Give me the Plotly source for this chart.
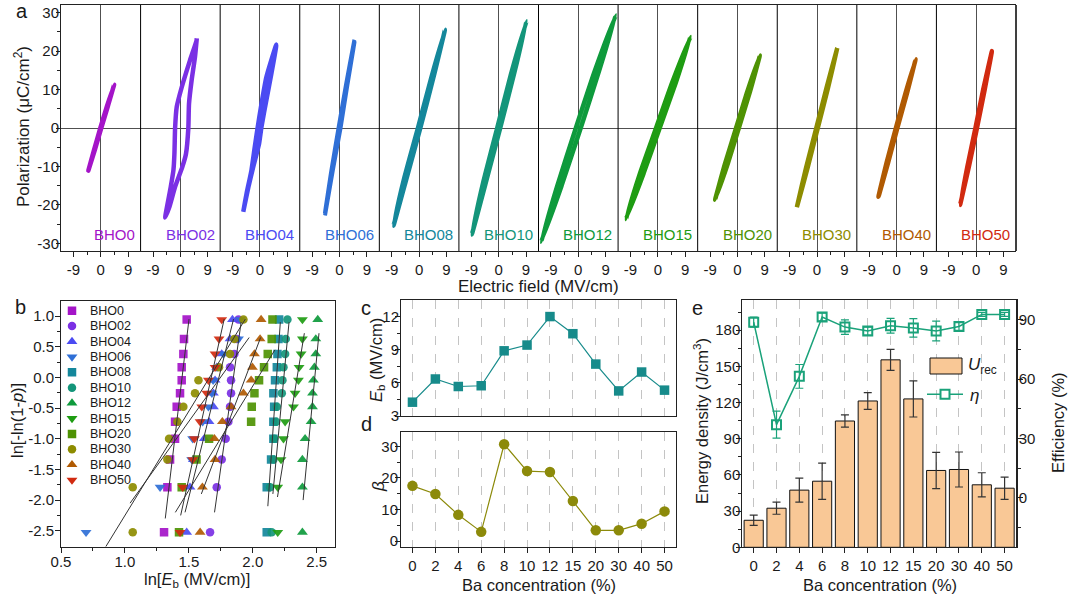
import math
import plotly.graph_objects as go

# ---------------- data ----------------
samples = ["BHO0", "BHO02", "BHO04", "BHO06", "BHO08", "BHO10",
           "BHO12", "BHO15", "BHO20", "BHO30", "BHO40", "BHO50"]
colors = ["#A414C8", "#7B30E4", "#4B4BF2", "#2F6FD6", "#14879B", "#13957A",
          "#0E9A3C", "#1E9C12", "#4E9203", "#8D8C00", "#B05A02", "#D12A10"]
symbols = ["square", "circle", "triangle-up", "triangle-down"] * 3
conc = ["0", "2", "4", "6", "8", "10", "12", "15", "20", "30", "40", "50"]

# (a) P-E loops, closed paths (E in MV/cm, P in uC/cm2)
E_BHO0 = [-4.1, -2.0, 0.15, 2.3, 4.4, 2.0, -0.15, -2.2, -4.1]
P_BHO0 = [-11.1, -5.8, 0.0, 5.6, 11.3, 5.6, 0.0, -5.6, -11.1]
E_BHO02 = [-5.0, -3.6, -1.74, 0.65, 1.85, 2.62, 2.84, 3.7, 4.8, 5.4,
           5.34, 3.16, 0.44, -1.2, -1.74, -1.96, -2.29, -3.16, -5.0]
P_BHO02 = [-23.3, -20.5, -15.3, -10.1, -6.7, 0.0, 6.3, 12.4, 18.4, 23.3,
           22.8, 17.6, 10.6, 5.5, 0.0, -6.7, -11.0, -15.3, -23.3]
E_BHO04 = [-5.5, -3.7, -2.2, -0.3, 0.5, 2.1, 3.75, 5.4,
           2.1, 0.5, -0.9, -1.7, -2.8, -4.4, -5.5]
P_BHO04 = [-21.8, -15.0, -10.1, -4.1, 0.3, 7.2, 14.1, 21.7,
           13.2, 6.3, -0.6, -4.9, -11.0, -17.0, -21.8]
E_BHO06 = [-4.74, -2.3, 0.25, 2.5, 4.85, 2.2, -0.25, -2.6, -4.74]
P_BHO06 = [-22.2, -11.0, 0.0, 11.2, 22.4, 11.2, 0.0, -11.0, -22.2]
E_BHO08 = [-8.44, -4.0, 0.4, 4.6, 8.5, 3.9, -0.4, -4.8, -8.44]
P_BHO08 = [-25.4, -12.7, 0.0, 12.8, 25.6, 12.8, 0.0, -12.7, -25.4]
E_BHO10 = [-8.85, -4.1, 0.5, 5.0, 9.15, 4.0, -0.5, -5.0, -8.85]
P_BHO10 = [-27.7, -13.8, 0.0, 13.9, 27.8, 13.9, 0.0, -13.8, -27.7]
E_BHO12 = [-12.2, -5.5, 0.8, 6.9, 12.3, 5.5, -0.8, -6.9, -12.2]
P_BHO12 = [-29.6, -15.0, 0.0, 15.0, 29.3, 15.0, 0.0, -15.0, -29.6]
E_BHO15 = [-10.5, -4.7, 0.6, 5.9, 10.7, 4.7, -0.6, -5.9, -10.5]
P_BHO15 = [-23.7, -11.8, 0.0, 11.8, 23.7, 11.8, 0.0, -11.8, -23.7]
E_BHO20 = [-7.36, -3.2, 0.45, 4.1, 7.36, 3.2, -0.45, -4.1, -7.36]
P_BHO20 = [-18.7, -9.3, 0.0, 9.4, 18.9, 9.4, 0.0, -9.3, -18.7]
E_BHO30 = [-6.65, -3.1, 0.25, 3.6, 6.65, 3.1, -0.25, -3.6, -6.65]
P_BHO30 = [-20.6, -10.3, 0.0, 10.4, 20.8, 10.4, 0.0, -10.3, -20.6]
E_BHO40 = [-6.0, -2.8, 0.25, 3.4, 6.24, 2.9, -0.25, -3.3, -6.0]
P_BHO40 = [-17.9, -9.0, 0.0, 9.0, 17.9, 9.0, 0.0, -9.0, -17.9]
E_BHO50 = [-5.3, -2.4, 0.25, 2.8, 5.17, 2.3, -0.25, -2.9, -5.3]
P_BHO50 = [-20.0, -10.0, 0.0, 10.0, 20.0, 10.0, 0.0, -10.0, -20.0]

# (b) Weibull plot
weibull_y = [-2.525, -1.789, -1.339, -1.0, -0.723, -0.48, -0.257, -0.046, 0.164, 0.383, 0.627, 0.942]
lnE_BHO0 = [1.306, 1.332, 1.353, 1.392, 1.392, 1.405, 1.431, 1.444, 1.444, 1.457, 1.462, 1.483]
lnE_BHO02 = [1.666, 1.718, 1.757, 1.788, 1.809, 1.822, 1.830, 1.830, 1.822, 1.856, 1.875, 1.888]
lnE_BHO04 = [1.483, 1.509, 1.535, 1.620, 1.658, 1.692, 1.692, 1.705, 1.718, 1.757, 1.822, 1.841]
lnE_BHO06 = [0.696, 1.275, 1.522, 1.530, 1.608, 1.653, 1.680, 1.690, 1.720, 1.770, 1.888, 1.901]
lnE_BHO08 = [2.109, 2.109, 2.143, 2.161, 2.161, 2.167, 2.161, 2.174, 2.188, 2.193, 2.201, 2.206]
lnE_BHO10 = [2.148, 2.135, 2.161, 2.167, 2.182, 2.188, 2.227, 2.232, 2.240, 2.253, 2.258, 2.271]
lnE_BHO12 = [2.388, 2.388, 2.388, 2.409, 2.456, 2.467, 2.467, 2.474, 2.482, 2.493, 2.493, 2.508]
lnE_BHO15 = [2.195, 2.195, 2.221, 2.240, 2.253, 2.318, 2.331, 2.357, 2.362, 2.378, 2.388, 2.388]
lnE_BHO20 = [1.423, 1.444, 1.560, 1.658, 1.987, 1.992, 2.013, 2.049, 2.088, 2.117, 2.148, 2.154]
lnE_BHO30 = [1.061, 1.061, 1.332, 1.345, 1.410, 1.457, 1.548, 1.575, 1.736, 1.822, 1.856, 1.927]
lnE_BHO40 = [1.588, 1.606, 1.705, 1.700, 1.762, 1.830, 1.927, 1.987, 1.997, 2.013, 2.057, 2.065]
lnE_BHO50 = [1.431, 1.452, 1.530, 1.543, 1.588, 1.601, 1.640, 1.653, 1.705, 1.705, 1.736, 1.757]
fit_y_lo = [-2.3, -2.2, -2.2, -2.05, -2.1, -1.9, -2.0, -1.95, -2.2, -2.76, -1.9, -2.25]
fit_y_hi = [0.95, 0.9, 0.95, 0.65, 0.9, 0.9, 0.72, 0.72, 0.45, 0.95, 0.65, 0.95]

# (c) breakdown strength, (d) Weibull modulus
Eb = [4.25, 6.35, 5.67, 5.74, 8.9, 9.42, 12.0, 10.45, 7.7, 5.27, 6.98, 5.34]
beta = [17.5, 14.9, 8.3, 2.9, 30.7, 22.2, 21.9, 12.7, 3.4, 3.4, 5.5, 9.4]

# (e) energy density and efficiency
U_rec = [22.4, 32.4, 47.4, 54.8, 104.7, 121.3, 155.4, 123.0, 63.7, 64.5, 51.8, 49.0]
U_err = [4.2, 5.0, 10.0, 15.0, 5.0, 7.0, 8.7, 15.0, 15.0, 14.5, 10.0, 9.2]
eta = [88.8, 37.0, 61.4, 91.4, 86.3, 84.3, 87.0, 85.9, 84.3, 86.6, 92.7, 92.7]
eta_err = [2.5, 6.8, 6.0, 2.0, 3.7, 2.0, 3.7, 4.7, 5.0, 2.0, 1.0, 1.0]

# ---------------- figure ----------------
W, H = 1072, 601
def fx(p): return p / W
def fy(p): return 1 - p / H

FONT = "Liberation Sans, Arial, sans-serif"
tickfont = dict(family=FONT, size=15, color="#1a1a1a")
LC = "#222222"
base = dict(showline=True, linecolor=LC, linewidth=1, ticks="outside", ticklen=5,
            tickwidth=1, tickcolor=LC, tickfont=tickfont, showgrid=False,
            zeroline=False, automargin=False)
def minor(vals):
    return dict(tickvals=vals, ticks="outside", ticklen=3, tickwidth=1, tickcolor=LC)

fig = go.Figure()
layout = {}
shapes = []
annos = []

loops_E = [E_BHO0, E_BHO02, E_BHO04, E_BHO06, E_BHO08, E_BHO10,
           E_BHO12, E_BHO15, E_BHO20, E_BHO30, E_BHO40, E_BHO50]
loops_P = [P_BHO0, P_BHO02, P_BHO04, P_BHO06, P_BHO08, P_BHO10,
           P_BHO12, P_BHO15, P_BHO20, P_BHO30, P_BHO40, P_BHO50]

# ---- panel a ----
A_L, A_R, A_T, A_B = 61, 1016, 5, 251
sw = (A_R - A_L) / 12
for i in range(12):
    xn = "x" if i == 0 else f"x{i+1}"
    xk = "xaxis" if i == 0 else f"xaxis{i+1}"
    fig.add_trace(go.Scatter(x=loops_E[i], y=loops_P[i], mode="lines",
                             line=dict(color=colors[i], width=4.5, shape="spline", smoothing=0.5),
                             xaxis=xn, yaxis="y", showlegend=False, hoverinfo="skip"))
    layout[xk] = dict(base, domain=[fx(A_L + i * sw), fx(A_L + (i + 1) * sw)],
                      range=[-13.1, 13.1], anchor="y", mirror=True,
                      tickvals=[-9, 0, 9], ticktext=["-9", "0", "9"],
                      minor=minor([-4.5, 4.5]),
                      zeroline=True, zerolinecolor="#505050", zerolinewidth=1)
    annos.append(dict(xref=xn, yref="y", x=11.9, y=-27.6, text=samples[i],
                      showarrow=False, xanchor="right", yanchor="middle",
                      font=dict(family=FONT, size=15, color=colors[i])))
    shapes.append(dict(type="line", xref="paper", yref="paper",
                       x0=fx(A_L + (i + 1) * sw), x1=fx(A_L + (i + 1) * sw),
                       y0=fy(A_B), y1=fy(A_T), line=dict(color="black", width=1)))
pticks = list(range(-30, 31, 10))
layout["yaxis"] = dict(base, domain=[fy(A_B), fy(A_T)], range=[-32, 32], anchor="x",
                       tickvals=pticks, ticktext=[str(v) for v in pticks],
                       ticklen=4, ticklabelstandoff=-6,
                       minor=minor([-25, -15, -5, 5, 15, 25]),
                       zeroline=True, zerolinecolor="#505050", zerolinewidth=1)

# ---- panel b ----
B_L, B_R, B_T, B_B = 61, 335, 300.7, 546.7
lnE_all = [lnE_BHO0, lnE_BHO02, lnE_BHO04, lnE_BHO06, lnE_BHO08, lnE_BHO10,
           lnE_BHO12, lnE_BHO15, lnE_BHO20, lnE_BHO30, lnE_BHO40, lnE_BHO50]
for i in range(12):
    sz = 9.5 if "triangle" in symbols[i] else 8.5
    fig.add_trace(go.Scatter(x=lnE_all[i], y=weibull_y, mode="markers",
                             marker=dict(symbol=symbols[i], color=colors[i], size=sz,
                                         opacity=0.92, line=dict(width=0)),
                             xaxis="x13", yaxis="y2", showlegend=False, hoverinfo="skip"))
for i in range(12):
    c = math.log(Eb[i])
    ys = [fit_y_lo[i], fit_y_hi[i]]
    xs = [c + y / beta[i] for y in ys]
    fig.add_trace(go.Scatter(x=xs, y=ys, mode="lines", line=dict(color="#333333", width=1),
                             xaxis="x13", yaxis="y2", showlegend=False, hoverinfo="skip"))
layout["xaxis13"] = dict(base, domain=[fx(B_L), fx(B_R)], range=[0.5, 2.643], anchor="y2",
                         mirror=True, tickvals=[0.5, 1.0, 1.5, 2.0, 2.5],
                         ticktext=["0.5", "1.0", "1.5", "2.0", "2.5"], ticklabelstandoff=-4,
                         minor=minor([0.75, 1.25, 1.75, 2.25]))
byt = [-2.5, -2.0, -1.5, -1.0, -0.5, 0.0, 0.5, 1.0]
layout["yaxis2"] = dict(base, domain=[fy(B_B), fy(B_T)], range=[-2.76, 1.25], anchor="x13",
                        mirror=True, tickvals=byt, ticktext=[f"{v:.1f}" for v in byt],
                        ticklabelstandoff=-2,
                        minor=minor([-2.25, -1.75, -1.25, -0.75, -0.25, 0.25, 0.75]))
# legend of panel b (overlay axis in pixel units)
for i in range(12):
    sz = 9.5 if "triangle" in symbols[i] else 8.5
    fig.add_trace(go.Scatter(x=[72], y=[310.7 + 15.4 * i], mode="markers",
                             marker=dict(symbol=symbols[i], color=colors[i], size=sz, line=dict(width=0)),
                             xaxis="x17", yaxis="y7", showlegend=False, hoverinfo="skip"))
    annos.append(dict(xref="paper", yref="paper", x=fx(88), y=fy(310.7 + 15.4 * i),
                      text=samples[i], showarrow=False, xanchor="left", yanchor="middle",
                      font=dict(family=FONT, size=12.5, color="#1a1a1a")))
layout["xaxis17"] = dict(domain=[fx(B_L), fx(B_R)], range=[B_L, B_R], visible=False,
                         anchor="y7", fixedrange=True)
layout["yaxis7"] = dict(domain=[fy(B_B), fy(B_T)], range=[B_B, B_T], visible=False,
                        anchor="x17", fixedrange=True)

# ---- panels c, d ----
C_L, C_R = 401, 676
C_T, C_B = 300, 416
D_T, D_B = 432.3, 547.3
catax = dict(base, type="category", categoryorder="array", categoryarray=conc,
             range=[-0.5, 11.5], mirror=True, showgrid=True, gridcolor="#c4c4c4",
             griddash="dash", gridwidth=1)
fig.add_trace(go.Scatter(x=conc, y=Eb, mode="lines+markers",
                         line=dict(color="#178B8B", width=1.2),
                         marker=dict(symbol="square", size=9.5, color="#178B8B"),
                         xaxis="x14", yaxis="y3", showlegend=False, hoverinfo="skip"))
layout["xaxis14"] = dict(catax, domain=[fx(C_L), fx(C_R)], anchor="y3",
                         showticklabels=False, ticks="")
layout["yaxis3"] = dict(base, domain=[fy(C_B), fy(C_T)], range=[3, 13.5], anchor="x14",
                        mirror=True, tickvals=[3, 6, 9, 12], ticktext=["3", "6", "9", "12"],
                        ticklabelstandoff=-7, minor=minor([4.5, 7.5, 10.5]))
fig.add_trace(go.Scatter(x=conc, y=beta, mode="lines+markers",
                         line=dict(color="#8C8A0A", width=1.2),
                         marker=dict(symbol="circle", size=10.5, color="#8C8A0A"),
                         xaxis="x15", yaxis="y4", showlegend=False, hoverinfo="skip"))
layout["xaxis15"] = dict(catax, domain=[fx(C_L), fx(C_R)], anchor="y4",
                         tickvals=conc, ticktext=conc)
layout["yaxis4"] = dict(base, domain=[fy(D_B), fy(D_T)], range=[-2, 34.5], anchor="x15",
                        mirror=True, tickvals=[0, 10, 20, 30], ticktext=["0", "10", "20", "30"],
                        ticklabelstandoff=-6, minor=minor([5, 15, 25]))

# ---- panel e ----
E_L, E_R, E_T, E_B = 742.3, 1016, 300, 547.3
GREEN = "#1AA27A"
fig.add_trace(go.Bar(x=conc, y=U_rec, width=0.84,
                     marker=dict(color="#F9C896", line=dict(color="#111111", width=1)),
                     error_y=dict(type="data", array=U_err, color="#333333", thickness=1.2, width=4),
                     xaxis="x16", yaxis="y5", showlegend=False, hoverinfo="skip"))
fig.add_trace(go.Scatter(x=conc, y=eta, mode="lines+markers",
                         line=dict(color=GREEN, width=1.5),
                         marker=dict(symbol="square-open", size=9, color=GREEN, line=dict(width=2)),
                         error_y=dict(type="data", array=eta_err, color=GREEN, thickness=1.2, width=4),
                         xaxis="x16", yaxis="y6", showlegend=False, hoverinfo="skip"))
layout["xaxis16"] = dict(catax, domain=[fx(E_L), fx(E_R)], anchor="y5",
                         tickvals=conc, ticktext=conc)
ut = list(range(0, 181, 30))
layout["yaxis5"] = dict(base, domain=[fy(E_B), fy(E_T)], range=[0, 205], anchor="x16",
                        tickvals=ut, ticktext=[str(v) for v in ut], ticklabelstandoff=-7,
                        minor=minor([15, 45, 75, 105, 135, 165, 195]))
layout["yaxis6"] = dict(base, domain=[fy(E_B), fy(E_T)], range=[-25, 100], anchor="x16",
                        overlaying="y5", side="right", linewidth=1.5, ticklabelstandoff=-7,
                        tickvals=[0, 30, 60, 90], ticktext=["0", "30", "60", "90"],
                        minor=minor([-15, 15, 45, 75]))
# legend of panel e
shapes.append(dict(type="rect", xref="paper", yref="paper", x0=fx(930), x1=fx(962),
                   y0=fy(374), y1=fy(358), fillcolor="#F9C896", line=dict(color="#111111", width=1)))
shapes.append(dict(type="line", xref="paper", yref="paper", x0=fx(927), x1=fx(963),
                   y0=fy(394.3), y1=fy(394.3), line=dict(color=GREEN, width=1.5)))
shapes.append(dict(type="rect", xref="paper", yref="paper", x0=fx(940.5), x1=fx(949.5),
                   y0=fy(398.8), y1=fy(389.8), fillcolor="white", line=dict(color=GREEN, width=2)))
annos.append(dict(xref="paper", yref="paper", x=fx(966), y=fy(366),
                  text="<i>U</i><sub>rec</sub>", showarrow=False, xanchor="left", yanchor="middle",
                  font=dict(family=FONT, size=17, color="#1a1a1a")))
annos.append(dict(xref="paper", yref="paper", x=fx(968), y=fy(395),
                  text="<i>η</i>", showarrow=False, xanchor="left", yanchor="middle",
                  font=dict(family=FONT, size=17, color="#1a1a1a")))

# right edge of panel a
shapes.append(dict(type="line", xref="paper", yref="paper", x0=fx(A_R), x1=fx(A_R),
                   y0=fy(A_B), y1=fy(A_T), line=dict(color="black", width=1)))

# ---- axis titles & panel letters ----
def title(x, y, text, size=16.5, angle=0):
    annos.append(dict(xref="paper", yref="paper", x=fx(x), y=fy(y), text=text,
                      showarrow=False, xanchor="center", yanchor="middle", textangle=angle,
                      font=dict(family=FONT, size=size, color="#1a1a1a")))
title(22, 127, "Polarization (μC/cm<sup>2</sup>)", 17, -90)
title(538.5, 286, "Electric field (MV/cm)", 17)
title(17, 421, "ln[-ln(1-<i>p</i>)]", 16.5, -90)
title(197, 580, "ln[<i>E</i><sub>b</sub> (MV/cm)]", 16.5)
title(377, 360, "<i>E</i><sub>b</sub> (MV/cm)", 16.5, -90)
title(379, 487, "<i>β</i>", 17, -90)
title(538.5, 585, "Ba concentration (%)", 16.5)
title(701, 421, "Energy density (J/cm<sup>3</sup>)", 16.5, -90)
title(1058, 423, "Efficiency (%)", 16.5, -90)
title(880, 585, "Ba concentration (%)", 16.5)
for t, x, y in [("a", 22, 11), ("b", 20, 307), ("c", 366, 308), ("d", 366, 424), ("e", 697, 308)]:
    title(x, y, t, 20)

fig.update_layout(**layout)
fig.update_layout(width=W, height=H, autosize=False,
                  margin=dict(l=0, r=0, t=0, b=0, pad=0),
                  paper_bgcolor="white", plot_bgcolor="rgba(0,0,0,0)",
                  showlegend=False, shapes=shapes, annotations=annos,
                  font=dict(family=FONT, size=14, color="#1a1a1a"))
fig.write_html("out.html", config={"displayModeBar": False},
               post_script="document.body.style.margin='0px';document.body.style.padding='0px';")
